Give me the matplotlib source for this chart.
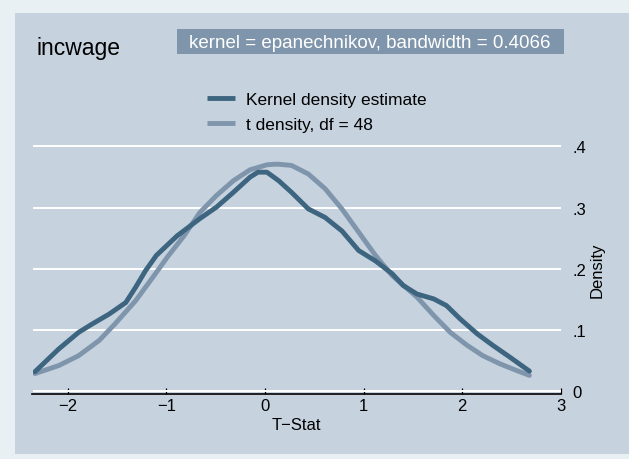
import matplotlib
matplotlib.use("Agg")
import matplotlib.pyplot as plt
from matplotlib.patches import Rectangle

plt.rcParams['font.family'] = ['Liberation Sans', 'DejaVu Sans']

# values
kde_x = [-2.33, -2.09, -1.89, -1.75, -1.58, -1.41, -1.31, -1.21, -1.10, -0.89,
         -0.66, -0.49, -0.32, -0.15, -0.07, 0.02, 0.14, 0.27, 0.44, 0.61,
         0.78, 0.95, 1.12, 1.29, 1.40, 1.54, 1.71, 1.84, 1.98, 2.15,
         2.31, 2.48, 2.68]
kde_y = [0.032, 0.069, 0.096, 0.110, 0.126, 0.145, 0.170, 0.197, 0.222, 0.254,
         0.282, 0.301, 0.325, 0.350, 0.358, 0.358, 0.344, 0.325, 0.298, 0.284,
         0.262, 0.230, 0.213, 0.192, 0.173, 0.159, 0.151, 0.140, 0.118, 0.094,
         0.075, 0.056, 0.033]

t_x = [-2.33, -2.09, -1.89, -1.68, -1.52, -1.31, -1.11, -0.99, -0.82, -0.66,
       -0.49, -0.32, -0.15, 0.02, 0.10, 0.14, 0.27, 0.44, 0.61, 0.78,
       0.95, 1.12, 1.29, 1.54, 1.71, 1.88, 2.05, 2.21, 2.38, 2.55, 2.68]
t_y = [0.029, 0.042, 0.058, 0.083, 0.110, 0.148, 0.192, 0.219, 0.254, 0.292,
       0.320, 0.344, 0.362, 0.370, 0.371, 0.371, 0.369, 0.355, 0.331, 0.298,
       0.260, 0.222, 0.189, 0.154, 0.124, 0.096, 0.075, 0.058, 0.045, 0.034, 0.026]

x_ticks = [-2, -1, 0, 1, 2, 3]
x_labels = ['\u22122', '\u22121', '0', '1', '2', '3']
y_ticks = [0, 0.1, 0.2, 0.3, 0.4]
y_labels = ['0', '.1', '.2', '.3', '.4']

dark = '#3e6580'
light = '#7f95ab'
W, H = 629, 460

fig = plt.figure(figsize=(W / 100, H / 100), dpi=100, facecolor='#e9f0f3')

# inner graph region
fig.patches.append(Rectangle((15 / W, 5 / H), 1 - 15 / W, 441 / H,
                             transform=fig.transFigure, facecolor='#c6d3df',
                             edgecolor='none', zorder=-2))

ax = fig.add_axes([32.5 / W, (H - 395) / H, (561 - 32.5) / W, (395 - 140) / H])
ax.set_facecolor('none')

ax.plot(kde_x, kde_y, color=dark, lw=3.5, label='Kernel density estimate', zorder=3,
        solid_joinstyle='round', solid_capstyle='round')
ax.plot(t_x, t_y, color=light, lw=3.5, label='t density, df = 48', zorder=2,
        solid_joinstyle='round', solid_capstyle='round')

ax.set_xlim(-2.355, 3.0)
ax.set_ylim(-0.0044, 0.4122)

for s in ['top', 'left', 'right']:
    ax.spines[s].set_visible(False)
ax.spines['bottom'].set_color('black')
ax.spines['bottom'].set_linewidth(1.2)

ax.set_yticks(y_ticks)
ax.set_yticklabels(y_labels)
ax.yaxis.tick_right()
ax.tick_params(axis='y', length=0, pad=8, labelsize=12)
ax.set_xticks(x_ticks)
ax.set_xticklabels(x_labels)
ax.tick_params(axis='x', direction='in', length=4.5, width=0.9, pad=3, labelsize=12)
ax.grid(axis='y', color='white', lw=1.4)
ax.set_axisbelow(True)

ax.set_xlabel('T\u2212Stat', fontsize=12, labelpad=3)
fig.text(597 / W, 1 - 270 / H, 'Density', rotation=90, ha='center', va='center', fontsize=12)

# title and note box
fig.text(36 / W, 1 - 49 / H, 'incwage', ha='left', va='center', fontsize=16.5)
fig.patches.append(Rectangle((177 / W, 1 - 55 / H), 387 / W, 25 / H,
                             transform=fig.transFigure, facecolor=light,
                             edgecolor='none', zorder=-1))
fig.text(189 / W, 1 - 43 / H, 'kernel = epanechnikov, bandwidth = 0.4066',
         ha='left', va='center', fontsize=13.5, color='white')

leg = fig.legend(loc='upper left', bbox_to_anchor=(207 / W, 1 - 93 / H), frameon=False,
                 fontsize=12.5, handlelength=1.6, handletextpad=0.65, labelspacing=0.55,
                 borderpad=0, borderaxespad=0)
for line in leg.get_lines():
    line.set_solid_capstyle('butt')

fig.savefig('out.png', dpi=100, facecolor=fig.get_facecolor())
